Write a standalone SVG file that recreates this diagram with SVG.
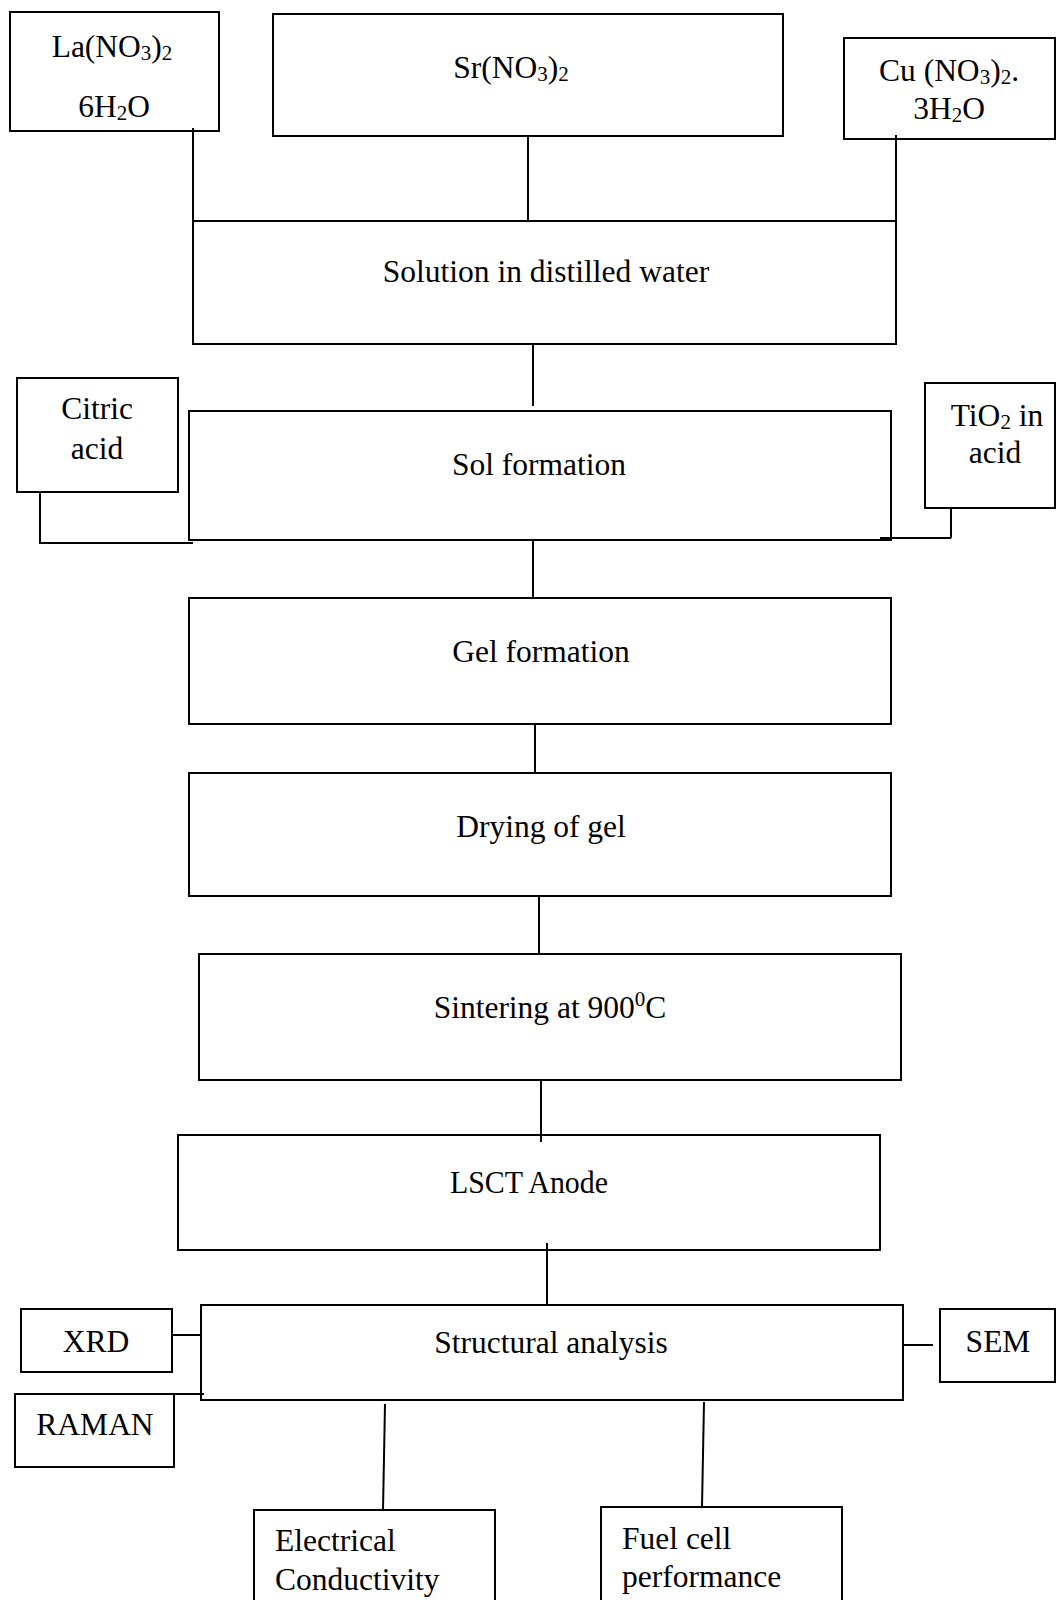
<svg xmlns="http://www.w3.org/2000/svg" width="1057" height="1600" viewBox="0 0 1057 1600">
<style>
.b{fill:#fff;stroke:#000;stroke-width:2}
.c{fill:none;stroke:#000;stroke-width:2}
text{font-family:"Liberation Serif","Times New Roman",serif;font-size:31.5px;fill:#000}
.m{text-anchor:middle}
.s{font-size:21px}
</style>
<rect width="1057" height="1600" fill="#fff"/>
<g id="la"><rect class="b" x="10" y="12" width="209" height="119"/>
<text class="m" x="112" y="57">La(NO<tspan class="s" dy="3">3</tspan><tspan dy="-3">)</tspan><tspan class="s" dy="3">2</tspan></text>
<text class="m" x="114" y="117">6H<tspan class="s" dy="3">2</tspan><tspan dy="-3">O</tspan></text></g>
<g id="sr"><rect class="b" x="273" y="14" width="510" height="122"/>
<text class="m" x="511" y="78">Sr(NO<tspan class="s" dy="3">3</tspan><tspan dy="-3">)</tspan><tspan class="s" dy="3">2</tspan></text></g>
<g id="cu"><rect class="b" x="844" y="38" width="211" height="101"/>
<text class="m" x="949" y="81">Cu (NO<tspan class="s" dy="3">3</tspan><tspan dy="-3">)</tspan><tspan class="s" dy="3">2</tspan><tspan dy="-3">.</tspan></text>
<text class="m" x="949" y="119">3H<tspan class="s" dy="3">2</tspan><tspan dy="-3">O</tspan></text></g>
<g id="solution"><rect class="b" x="193" y="221" width="703" height="123"/>
<text class="m" x="546" y="282">Solution in distilled water</text></g>
<g id="citric"><rect class="b" x="17" y="378" width="161" height="114"/>
<text class="m" x="97" y="419">Citric</text><text class="m" x="97" y="459">acid</text></g>
<g id="sol"><rect class="b" x="189" y="411" width="702" height="129"/>
<text class="m" x="539" y="475">Sol formation</text></g>
<g id="tio2"><rect class="b" x="925" y="383" width="130" height="125"/>
<text class="m" x="997" y="426">TiO<tspan class="s" dy="3">2</tspan><tspan dy="-3"> in</tspan></text>
<text class="m" x="995" y="463">acid</text></g>
<g id="gel"><rect class="b" x="189" y="598" width="702" height="126"/>
<text class="m" x="541" y="662">Gel formation</text></g>
<g id="drying"><rect class="b" x="189" y="773" width="702" height="123"/>
<text class="m" x="541" y="837">Drying of gel</text></g>
<g id="sintering"><rect class="b" x="199" y="954" width="702" height="126"/>
<text class="m" x="550" y="1018">Sintering at 900<tspan class="s" dy="-12">0</tspan><tspan dy="12">C</tspan></text></g>
<g id="lsct"><rect class="b" x="178" y="1135" width="702" height="115"/>
<text class="m" x="529" y="1193" textLength="158" lengthAdjust="spacingAndGlyphs">LSCT Anode</text></g>
<g id="structural"><rect class="b" x="201" y="1305" width="702" height="95"/>
<text class="m" x="551" y="1353">Structural analysis</text></g>
<g id="xrd"><rect class="b" x="21" y="1309" width="151" height="63"/>
<text class="m" x="96" y="1352">XRD</text></g>
<g id="raman"><rect class="b" x="15" y="1394" width="159" height="73"/>
<text class="m" x="95" y="1435">RAMAN</text></g>
<g id="sem"><rect class="b" x="940" y="1309" width="115" height="73"/>
<text class="m" x="998" y="1352">SEM</text></g>
<g id="electrical"><rect class="b" x="254" y="1510" width="241" height="100"/>
<text x="275" y="1551">Electrical</text><text x="275" y="1590">Conductivity</text></g>
<g id="fuel"><rect class="b" x="601" y="1507" width="241" height="103"/>
<text x="622" y="1549">Fuel cell</text><text x="622" y="1587">performance</text></g>
<g id="connectors">
<path class="c" d="M193,128V244M193,221H896M528,136V221M896,135V240"/>
<path class="c" d="M533,344V406M40,492V544M40,543H193M951,508V538M880,538H951"/>
<path class="c" d="M533,540V598M535,724V773M539,896V954M541,1080V1142M547,1243V1305"/>
<path class="c" d="M172,1335H201M172,1394H204M903,1345H933M385,1404L383,1510M704,1402L702,1507"/>
</g>
</svg>
